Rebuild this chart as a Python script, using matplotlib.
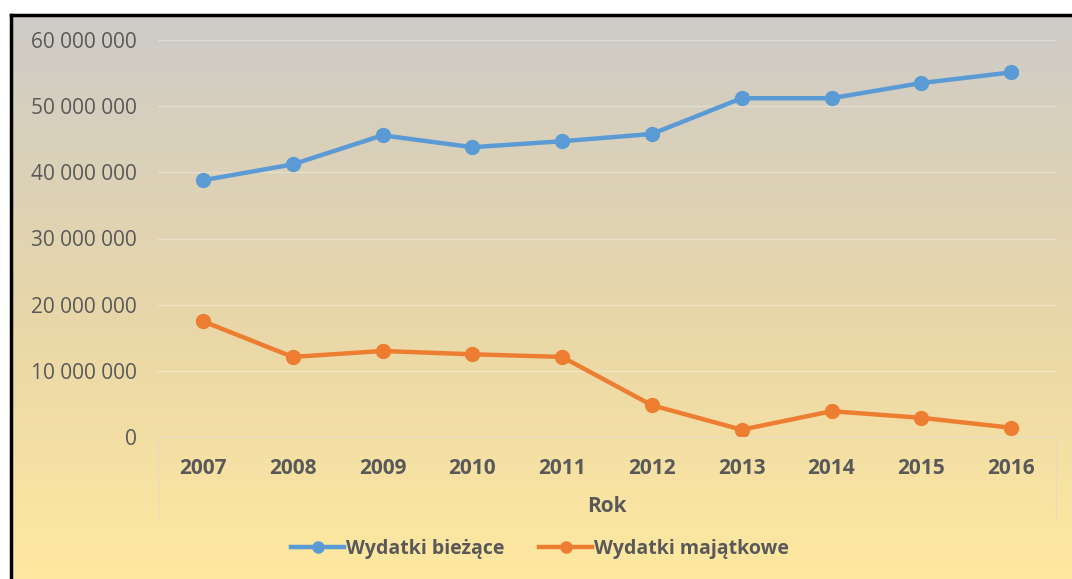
import matplotlib.pyplot as plt
import numpy as np
from matplotlib.lines import Line2D
from matplotlib.ticker import FuncFormatter

years = [2007, 2008, 2009, 2010, 2011, 2012, 2013, 2014, 2015, 2016]
biezace = [38.8e6, 41.2e6, 45.6e6, 43.8e6, 44.7e6, 45.8e6, 51.2e6, 51.2e6, 53.5e6, 55.1e6]
majatkowe = [17.5e6, 12.1e6, 13.0e6, 12.5e6, 12.1e6, 4.8e6, 1.1e6, 3.9e6, 2.9e6, 1.4e6]
y_ticks = [0, 10e6, 20e6, 30e6, 40e6, 50e6, 60e6]

BLUE = "#5b9bd5"
ORANGE = "#ed7d31"
TXT = "#595959"

plt.rcParams['font.family'] = ['Open Sans', 'DejaVu Sans']

W, H = 1072, 579
fig = plt.figure(figsize=(W / 100, H / 100), dpi=100)

# gradient background (grey at top -> pale yellow at bottom)
bg = fig.add_axes([0, 0, 1, 1], zorder=0)
top = np.array([206, 204, 200]) / 255
mid = np.array([233, 215, 168]) / 255
bot = np.array([255, 233, 160]) / 255
t = np.linspace(0, 1, 300)[:, None]
grad = np.where(t < 0.55,
                top + (mid - top) * (t / 0.55),
                mid + (bot - mid) * ((t - 0.55) / 0.45))
bg.imshow(grad[:, None, :].repeat(2, axis=1), aspect='auto',
          extent=[12 / W, 1, 0, 1 - 16 / H], origin='upper')
bg.set_xlim(0, 1)
bg.set_ylim(0, 1)
bg.axis('off')
# black frame on left and top
bg.plot([11 / W, 11 / W], [0, 1 - 15 / H], color='black', lw=2.5)
bg.plot([11 / W, 1], [1 - 15 / H, 1 - 15 / H], color='black', lw=2.5)
# category axis box lines
for xp in [158, 1056]:
    bg.plot([xp / W, xp / W], [1 - 517 / H, 1 - 437 / H], color='#e8dcb8', lw=1)

ax = fig.add_axes([158 / W, 1 - 437 / H, (1056 - 158) / W, (437 - 40) / H], zorder=1)
ax.patch.set_alpha(0)

x = np.arange(len(years))
ax.plot(x, biezace, color=BLUE, lw=3.2, marker='o', ms=10, label='Wydatki bieżące')
ax.plot(x, majatkowe, color=ORANGE, lw=3.2, marker='o', ms=10, label='Wydatki majątkowe')

ax.set_xlim(-0.5, len(years) - 0.5)
ax.set_ylim(0, 60e6)
ax.set_yticks(y_ticks)
ax.yaxis.set_major_formatter(FuncFormatter(lambda v, p: f"{int(v):,}".replace(",", " ")))
ax.set_xticks(x)
ax.set_xticklabels([str(y) for y in years], fontweight='bold')
ax.tick_params(axis='y', length=0, pad=15, labelsize=15, labelcolor=TXT)
ax.tick_params(axis='x', length=0, pad=15, labelsize=15, labelcolor=TXT)
ax.grid(axis='y', color='white', alpha=0.3, lw=1)
ax.set_axisbelow(True)
for s in ['top', 'right', 'left']:
    ax.spines[s].set_visible(False)
ax.spines['bottom'].set_color('#e8dcb8')
ax.set_xlabel('Rok', fontsize=15, fontweight='bold', color=TXT, labelpad=12)

handles = [Line2D([], [], color=BLUE, lw=3.2, marker='o', ms=8),
           Line2D([], [], color=ORANGE, lw=3.2, marker='o', ms=8)]
fig.legend(handles, ['Wydatki bieżące', 'Wydatki majątkowe'],
           loc='center', bbox_to_anchor=(540 / W, 1 - 549 / H), ncol=2,
           frameon=False, handlelength=2.7, handletextpad=0.1, columnspacing=1.8,
           prop={'size': 14, 'weight': 'bold'}, labelcolor=TXT)

fig.savefig('out.png', dpi=100)
